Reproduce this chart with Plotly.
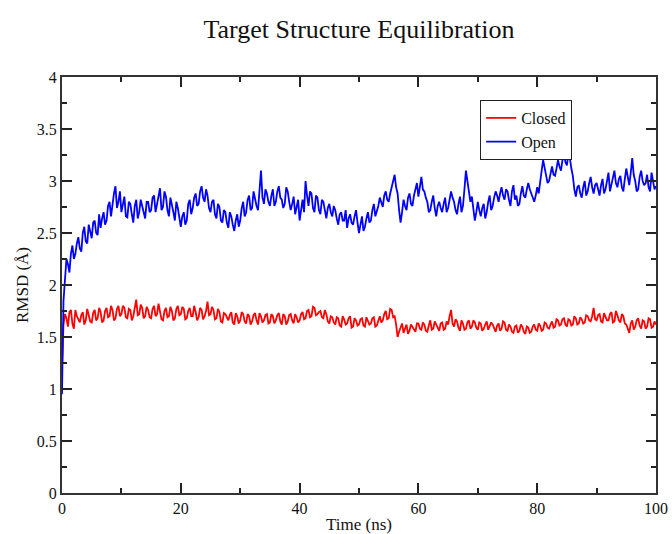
import numpy as np
import plotly.graph_objects as go

# RMSD samples on the half-nanosecond grid (0, 0.5, ..., 100 ns)
closed_rmsd = [
    1.22, 1.72, 1.60, 1.76, 1.58, 1.70, 1.64, 1.74, 1.66, 1.72,
    1.64, 1.76, 1.68, 1.74, 1.66, 1.78, 1.70, 1.76, 1.68, 1.80,
    1.72, 1.78, 1.68, 1.76, 1.70, 1.86, 1.72, 1.78, 1.70, 1.76,
    1.68, 1.80, 1.72, 1.76, 1.66, 1.78, 1.70, 1.75, 1.68, 1.80,
    1.72, 1.77, 1.68, 1.78, 1.70, 1.74, 1.69, 1.76, 1.70, 1.84,
    1.72, 1.76, 1.68, 1.74, 1.64, 1.72, 1.66, 1.74, 1.62, 1.70,
    1.66, 1.72, 1.63, 1.70, 1.65, 1.73, 1.62, 1.70, 1.66, 1.72,
    1.64, 1.70, 1.66, 1.73, 1.62, 1.70, 1.65, 1.72, 1.63, 1.69,
    1.66, 1.74, 1.68, 1.76, 1.70, 1.78, 1.72, 1.75, 1.68, 1.72,
    1.63, 1.69, 1.62, 1.68, 1.60, 1.67, 1.63, 1.70, 1.60, 1.66,
    1.62, 1.68, 1.60, 1.66, 1.63, 1.69, 1.61, 1.70, 1.66, 1.75,
    1.68, 1.76, 1.70, 1.50, 1.60, 1.54, 1.62, 1.56, 1.60, 1.55,
    1.63, 1.57, 1.62, 1.55, 1.66, 1.58, 1.62, 1.56, 1.64, 1.58,
    1.62, 1.76, 1.60, 1.65, 1.56, 1.63, 1.58, 1.66, 1.60, 1.64,
    1.57, 1.63, 1.58, 1.65, 1.60, 1.62, 1.55, 1.63, 1.58, 1.64,
    1.56, 1.60, 1.54, 1.61, 1.56, 1.60, 1.53, 1.59, 1.55, 1.62,
    1.56, 1.61, 1.57, 1.63, 1.58, 1.65, 1.60, 1.66, 1.62, 1.68,
    1.60, 1.66, 1.62, 1.68, 1.63, 1.67, 1.64, 1.70, 1.65, 1.78,
    1.66, 1.72, 1.64, 1.70, 1.66, 1.74, 1.65, 1.71, 1.64, 1.70,
    1.62, 1.54, 1.66, 1.60, 1.68, 1.58, 1.65, 1.60, 1.67, 1.60, 1.62,
]

# RMSD samples in between (0.25, 0.75, ..., 99.75 ns)
closed_rmsd_mid = [
    1.62, 1.68, 1.74, 1.63, 1.76, 1.67, 1.71, 1.62, 1.77, 1.65,
    1.73, 1.66, 1.78, 1.64, 1.75, 1.69, 1.80, 1.66, 1.77, 1.70,
    1.80, 1.69, 1.77, 1.66, 1.79, 1.71, 1.81, 1.68, 1.79, 1.69,
    1.77, 1.70, 1.82, 1.67, 1.75, 1.69, 1.79, 1.66, 1.77, 1.71,
    1.79, 1.67, 1.75, 1.70, 1.80, 1.66, 1.78, 1.67, 1.75, 1.71,
    1.79, 1.67, 1.77, 1.65, 1.73, 1.68, 1.71, 1.64, 1.73, 1.63,
    1.74, 1.65, 1.72, 1.62, 1.71, 1.66, 1.73, 1.64, 1.71, 1.63,
    1.72, 1.63, 1.71, 1.65, 1.72, 1.62, 1.71, 1.66, 1.72, 1.64,
    1.72, 1.67, 1.75, 1.69, 1.79, 1.71, 1.74, 1.69, 1.76, 1.65,
    1.70, 1.64, 1.69, 1.61, 1.70, 1.62, 1.68, 1.59, 1.68, 1.61,
    1.67, 1.61, 1.69, 1.62, 1.68, 1.60, 1.67, 1.64, 1.72, 1.67,
    1.77, 1.69, 1.62, 1.55, 1.63, 1.58, 1.53, 1.62, 1.57, 1.63,
    1.58, 1.64, 1.56, 1.61, 1.57, 1.65, 1.59, 1.63, 1.57, 1.65,
    1.70, 1.63, 1.67, 1.59, 1.66, 1.57, 1.64, 1.58, 1.66, 1.59,
    1.64, 1.56, 1.62, 1.57, 1.64, 1.58, 1.61, 1.56, 1.65, 1.57,
    1.62, 1.55, 1.60, 1.54, 1.62, 1.55, 1.60, 1.54, 1.60, 1.57,
    1.63, 1.56, 1.64, 1.59, 1.62, 1.59, 1.67, 1.61, 1.67, 1.62,
    1.67, 1.61, 1.70, 1.62, 1.69, 1.63, 1.71, 1.66, 1.70, 1.67,
    1.71, 1.65, 1.73, 1.66, 1.72, 1.64, 1.75, 1.66, 1.72, 1.63,
    1.58, 1.63, 1.57, 1.66, 1.61, 1.66, 1.58, 1.68, 1.59, 1.65,
]

open_rmsd = [
    0.95, 2.05, 2.20, 2.30, 2.25, 2.40, 2.35, 2.50, 2.42, 2.58,
    2.45, 2.62, 2.48, 2.55, 2.70, 2.62, 2.80, 2.78, 2.95, 2.80,
    2.70, 2.85, 2.65, 2.78, 2.60, 2.82, 2.70, 2.76, 2.64, 2.80,
    2.72, 2.86, 2.78, 2.93, 2.75, 2.85, 2.66, 2.78, 2.62, 2.74,
    2.56, 2.70, 2.62, 2.82, 2.74, 2.88, 2.78, 2.95, 2.80, 2.86,
    2.70, 2.82, 2.64, 2.75, 2.60, 2.70, 2.55, 2.66, 2.52, 2.68,
    2.62, 2.80, 2.70, 2.86, 2.74, 2.82, 2.72, 3.10, 2.78, 2.88,
    2.76, 2.92, 2.80, 2.95, 2.82, 2.78, 2.90, 2.72, 2.85, 2.74,
    2.62, 2.82, 3.00, 2.76, 2.88, 2.70, 2.84, 2.68, 2.80, 2.64,
    2.78, 2.66, 2.72, 2.58, 2.70, 2.62, 2.55, 2.68, 2.58, 2.72,
    2.50, 2.66, 2.56, 2.70, 2.62, 2.78, 2.70, 2.84, 2.75, 2.90,
    2.80, 2.95, 3.06, 2.88, 2.60, 2.82, 2.72, 2.88, 2.76, 2.92,
    2.85, 3.04, 2.90, 2.80, 2.72, 2.86, 2.66, 2.80, 2.70, 2.84,
    2.74, 2.90, 2.80, 2.68, 2.85, 2.76, 3.10, 2.92, 2.85, 2.62,
    2.80, 2.66, 2.78, 2.70, 2.86, 2.76, 2.90, 2.80, 2.94, 2.82,
    2.90, 2.76, 2.96, 2.86, 2.78, 2.95, 2.84, 2.98, 2.88, 2.80,
    2.94, 3.02, 3.20, 3.08, 3.00, 3.14, 3.05, 3.20, 3.10, 3.27,
    3.15, 3.22, 3.05, 2.85, 2.96, 2.84, 3.00, 2.90, 3.04, 2.88,
    2.98, 2.86, 3.02, 2.92, 3.08, 2.96, 3.10, 2.94, 3.05, 2.90,
    3.12, 2.96, 3.22, 3.00, 2.92, 3.10, 2.96, 3.06, 2.90, 3.00, 2.95,
]

open_rmsd_mid = [
    1.85, 2.25, 2.12, 2.38, 2.30, 2.46, 2.32, 2.56, 2.40, 2.50,
    2.60, 2.50, 2.68, 2.64, 2.58, 2.76, 2.66, 2.88, 2.74, 2.90,
    2.78, 2.66, 2.80, 2.68, 2.76, 2.64, 2.82, 2.68, 2.80, 2.70,
    2.84, 2.70, 2.88, 2.72, 2.90, 2.72, 2.84, 2.70, 2.80, 2.64,
    2.66, 2.58, 2.78, 2.68, 2.84, 2.76, 2.90, 2.84, 2.92, 2.74,
    2.80, 2.68, 2.78, 2.62, 2.72, 2.60, 2.70, 2.58, 2.62, 2.56,
    2.74, 2.66, 2.82, 2.72, 2.90, 2.76, 2.90, 2.84, 2.92, 2.80,
    2.86, 2.76, 2.90, 2.84, 2.74, 2.94, 2.80, 2.78, 2.68, 2.82,
    2.74, 2.70, 2.86, 2.90, 2.74, 2.86, 2.72, 2.82, 2.72, 2.74,
    2.70, 2.76, 2.64, 2.68, 2.62, 2.72, 2.64, 2.60, 2.66, 2.60,
    2.58, 2.52, 2.64, 2.60, 2.72, 2.66, 2.76, 2.78, 2.86, 2.82,
    2.88, 3.00, 2.94, 2.72, 2.70, 2.76, 2.84, 2.78, 2.86, 2.98,
    2.94, 2.92, 2.84, 2.70, 2.80, 2.74, 2.76, 2.74, 2.78, 2.70,
    2.82, 2.84, 2.72, 2.78, 2.70, 2.92, 3.00, 2.80, 2.72, 2.70,
    2.72, 2.74, 2.64, 2.80, 2.72, 2.84, 2.86, 2.88, 2.86, 2.92,
    2.82, 2.90, 2.82, 2.76, 2.88, 2.86, 2.92, 2.92, 2.82, 2.86,
    2.88, 3.10, 3.12, 2.98, 3.08, 3.06, 3.12, 3.14, 3.20, 3.18,
    3.26, 3.12, 2.92, 2.94, 2.88, 2.94, 2.86, 2.98, 2.94, 2.96,
    2.92, 2.96, 2.88, 3.00, 2.90, 3.04, 2.98, 3.02, 2.94, 3.02,
    3.04, 3.08, 3.06, 2.90, 3.04, 3.00, 2.98, 2.94, 3.08, 2.92,
]


def merge_grid(on_grid, between):
    """Interleave the half-ns samples with the quarter-offset samples."""
    merged = []
    for i, v in enumerate(on_grid):
        merged.append(v)
        if i < len(between):
            merged.append(between[i])
    return merged


closed_series = merge_grid(closed_rmsd, closed_rmsd_mid)
open_series = merge_grid(open_rmsd, open_rmsd_mid)
time_closed = np.linspace(0, 100, len(closed_series))
time_open = np.linspace(0, 100, len(open_series))

x_ticks = [0, 20, 40, 60, 80, 100]
y_ticks = [0, 0.5, 1, 1.5, 2, 2.5, 3, 3.5, 4]
y_tick_text = ["0", "0.5", "1", "1.5", "2", "2.5", "3", "3.5", "4"]

serif = "Liberation Serif, Times New Roman, serif"

fig = go.Figure()
fig.add_trace(go.Scatter(x=time_closed, y=closed_series, mode="lines", name="Closed",
                         line=dict(color="#ff0000", width=1.8)))
fig.add_trace(go.Scatter(x=time_open, y=open_series, mode="lines", name="Open",
                         line=dict(color="#0000ff", width=1.8)))

axis_common = dict(
    showgrid=False, zeroline=False, showline=True, mirror="ticks",
    linecolor="#333333", linewidth=2, ticks="inside", ticklen=10,
    tickwidth=1.5, tickcolor="#222222", automargin=False,
    tickfont=dict(family=serif, size=16, color="#111111"),
)

fig.update_xaxes(
    range=[0, 100], tickvals=x_ticks,
    minor=dict(dtick=10, ticks="inside", ticklen=5, tickcolor="#222222", tickwidth=1.5),
    title=dict(text="Time (ns)", font=dict(family=serif, size=17, color="#111111"), standoff=2),
    **axis_common,
)
fig.update_yaxes(
    range=[0, 4], tickvals=y_ticks, ticktext=y_tick_text,
    minor=dict(dtick=0.25, ticks="inside", ticklen=5, tickcolor="#222222", tickwidth=1.5),
    title=dict(text="RMSD (Å)", font=dict(family=serif, size=17, color="#111111"), standoff=4),
    **axis_common,
)

fig.update_layout(
    width=672, height=534,
    margin=dict(l=62, r=16, t=77, b=41),
    paper_bgcolor="white", plot_bgcolor="white",
    title=dict(text="Target Structure Equilibration", x=0.5, xref="paper", xanchor="center",
               y=0.945, yanchor="middle",
               font=dict(family=serif, size=26, color="#111111")),
    legend=dict(x=0.704, y=0.945, xanchor="left", yanchor="top",
                bordercolor="#222222", borderwidth=1, bgcolor="white",
                font=dict(family=serif, size=16, color="#111111"),
                tracegroupgap=0, itemwidth=30),
    showlegend=True,
)

fig.write_html("out.html")
